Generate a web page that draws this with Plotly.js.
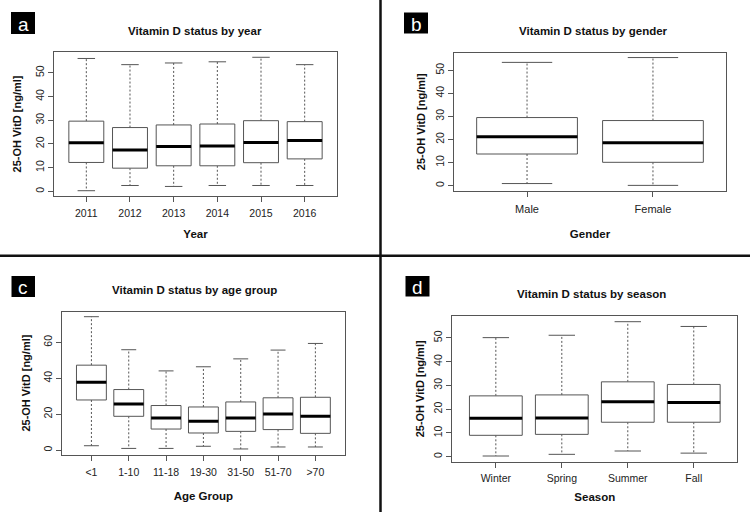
<!DOCTYPE html>
<html>
<head>
<meta charset="utf-8">
<script src="https://cdn.plot.ly/plotly-3.0.1.min.js"></script>
<style>html,body{margin:0;padding:0;background:#fff;}#chart{width:750px;height:512px;}</style>
</head>
<body>
<div id="chart"></div>
<script>
// ---- Panel a: by year ----
const yearCats = ['2011','2012','2013','2014','2015','2016'];
const yearMin = [0.3, 2.5, 2.1, 2.5, 2.5, 2.5];
const yearQ1  = [12.2, 9.8, 10.8, 10.8, 12.1, 13.7];
const yearMed = [20.5, 17.5, 18.9, 19.1, 20.6, 21.4];
const yearQ3  = [29.6, 26.9, 28.0, 28.4, 29.8, 29.4];
const yearMax = [56.0, 53.4, 54.1, 54.6, 56.5, 53.4];

// ---- Panel b: by gender ----
const genderCats = ['Male','Female'];
const genderMin = [0.9, 0.1];
const genderQ1  = [13.7, 10.1];
const genderMed = [21.2, 18.6];
const genderQ3  = [29.5, 28.2];
const genderMax = [53.4, 55.5];

// ---- Panel c: by age group ----
const ageCats = ['<1','1-10','11-18','19-30','31-50','51-70','>70'];
const ageMin = [2.4, 0.9, 0.9, 2.1, 0.6, 1.7, 1.7];
const ageQ1  = [27.9, 18.8, 11.7, 9.5, 10.4, 11.4, 9.3];
const ageMed = [37.8, 25.7, 17.9, 16.0, 17.9, 20.1, 18.8];
const ageQ3  = [47.3, 33.7, 24.8, 24.0, 26.8, 29.1, 29.4];
const ageMax = [74.3, 55.9, 44.1, 46.4, 50.8, 55.7, 59.4];

// ---- Panel d: by season ----
const seasonCats = ['Winter','Spring','Summer','Fall'];
const seasonMin = [0.3, 1.0, 2.4, 1.5];
const seasonQ1  = [9.0, 9.4, 14.5, 14.5];
const seasonMed = [16.2, 16.3, 23.1, 22.8];
const seasonQ3  = [25.6, 26.0, 31.5, 30.4];
const seasonMax = [50.1, 51.1, 56.8, 54.8];

const BOXW = 0.8, CAPW = 0.5;
const GREY = '#555555';

function panelTraces(cats, mn, q1, med, q3, mx, xa, ya) {
  const wx = [], wy = [], cx = [], cy = [], bx = [], by = [], mxs = [], mys = [];
  cats.forEach((c, k) => {
    const p = k + 1, h = BOXW / 2, hc = BOXW * CAPW / 2;
    wx.push(p, p, null, p, p, null);
    wy.push(q3[k], mx[k], null, q1[k], mn[k], null);
    cx.push(p - hc, p + hc, null, p - hc, p + hc, null);
    cy.push(mx[k], mx[k], null, mn[k], mn[k], null);
    bx.push(p - h, p + h, p + h, p - h, p - h, null);
    by.push(q1[k], q1[k], q3[k], q3[k], q1[k], null);
    mxs.push(p - h, p + h, null);
    mys.push(med[k], med[k], null);
  });
  const base = {type: 'scatter', mode: 'lines', xaxis: xa, yaxis: ya, hoverinfo: 'skip', showlegend: false};
  return [
    Object.assign({}, base, {x: wx, y: wy, line: {color: GREY, width: 1, dash: '2px,2px'}}),
    Object.assign({}, base, {x: cx, y: cy, line: {color: GREY, width: 1}}),
    Object.assign({}, base, {x: bx, y: by, fill: 'toself', fillcolor: '#ffffff', line: {color: GREY, width: 1}}),
    Object.assign({}, base, {x: mxs, y: mys, line: {color: '#000000', width: 3}})
  ];
}

const data = [].concat(
  panelTraces(yearCats, yearMin, yearQ1, yearMed, yearQ3, yearMax, 'x', 'y'),
  panelTraces(genderCats, genderMin, genderQ1, genderMed, genderQ3, genderMax, 'x2', 'y2'),
  panelTraces(ageCats, ageMin, ageQ1, ageMed, ageQ3, ageMax, 'x3', 'y3'),
  panelTraces(seasonCats, seasonMin, seasonQ1, seasonMed, seasonQ3, seasonMax, 'x4', 'y4')
);

const W = 750, H = 512;
const FONT = '"Liberation Sans", Arial, Helvetica, sans-serif';
function px(x) { return x / W; }
function py(y) { return 1 - y / H; }

function xAxis(cats, range, dom, title, fs, anchor, standoff, tls) {
  return {
    domain: [px(dom[0]), px(dom[1])], anchor: anchor,
    range: range, autorange: false,
    tickvals: cats.map((c, k) => k + 1), ticktext: cats,
    ticks: 'outside', ticklen: 5, tickcolor: GREY, tickwidth: 1,
    ticklabelstandoff: tls,
    showline: true, mirror: true, linecolor: GREY, linewidth: 1,
    showgrid: false, zeroline: false,
    tickfont: {family: FONT, size: fs, color: '#222'},
    title: {text: title, font: {family: FONT, size: 11.5, color: '#111', weight: 'bold'}, standoff: standoff}
  };
}
function yAxis(range, dom, dtick, maxTick, anchor, standoff) {
  const tv = []; for (let v = 0; v <= maxTick; v += dtick) tv.push(v);
  return {
    domain: [py(dom[1]), py(dom[0])], anchor: anchor,
    range: range, autorange: false,
    tickvals: tv, tickangle: -90,
    ticks: 'outside', ticklen: 5, tickcolor: GREY, tickwidth: 1,
    showline: true, mirror: true, linecolor: GREY, linewidth: 1,
    showgrid: false, zeroline: false,
    tickfont: {family: FONT, size: 10.5, color: '#222'},
    title: {text: '25-OH VitD [ng/ml]', font: {family: FONT, size: 11, color: '#111', weight: 'bold'}, standoff: standoff}
  };
}

const titles = [
  {t: 'Vitamin D status by year', x: 195, y: 31},
  {t: 'Vitamin D status by gender', x: 593, y: 31},
  {t: 'Vitamin D status by age group', x: 194, y: 290},
  {t: 'Vitamin D status by season', x: 591, y: 294}
];
const letters = [
  {t: 'a', x0: 11, x1: 35, y0: 12, y1: 34},
  {t: 'b', x0: 404, x1: 428, y0: 12.5, y1: 33.5},
  {t: 'c', x0: 11.5, x1: 35, y0: 276, y1: 297},
  {t: 'd', x0: 405.5, x1: 429.5, y0: 276, y1: 296.5}
];

const annotations = titles.map(o => ({
  text: '<b>' + o.t + '</b>', xref: 'paper', yref: 'paper', x: px(o.x), y: py(o.y),
  xanchor: 'center', yanchor: 'middle', showarrow: false,
  font: {family: FONT, size: 11.5, color: '#111'}
})).concat(letters.map(o => ({
  text: o.t, xref: 'paper', yref: 'paper', x: px((o.x0 + o.x1) / 2), y: py((o.y0 + o.y1) / 2 + 1),
  xanchor: 'center', yanchor: 'middle', showarrow: false,
  font: {family: FONT, size: 19, color: '#fff'}
})));

const shapes = letters.map(o => ({
  type: 'rect', xref: 'paper', yref: 'paper',
  x0: px(o.x0), x1: px(o.x1), y0: py(o.y1), y1: py(o.y0),
  fillcolor: '#000', line: {width: 0}, layer: 'above'
})).concat([
  {type: 'line', xref: 'paper', yref: 'paper', x0: px(380.5), x1: px(380.5), y0: 0, y1: 1, line: {color: '#111', width: 2.5}},
  {type: 'line', xref: 'paper', yref: 'paper', x0: 0, x1: 1, y0: py(255.7), y1: py(255.7), line: {color: '#111', width: 2.5}}
]);

const layout = {
  width: W, height: H,
  margin: {l: 0, r: 0, t: 0, b: 0},
  paper_bgcolor: '#fff', plot_bgcolor: '#fff',
  showlegend: false,
  font: {family: FONT},
  xaxis:  xAxis(yearCats,   [0.26, 6.74], [54, 337],     'Year',      10.5, 'y',  11, 3),
  yaxis:  yAxis([-1.8, 58.6], [52.3, 195.7], 10, 50, 'x', 9),
  xaxis2: xAxis(genderCats, [0.42, 2.58], [454, 726],    'Gender',    11, 'y2',   16, 3),
  yaxis2: yAxis([-2.2, 57.6], [52.7, 190.7], 10, 50, 'x2', 5),
  xaxis3: xAxis(ageCats,    [0.22, 7.78], [62.3, 344.5], 'Age Group', 10.5, 'y3', 14, 3),
  yaxis3: yAxis([-2.6, 77.2], [311.5, 454.7], 20, 60, 'x3', 9),
  xaxis4: xAxis(seasonCats, [0.34, 4.66], [452.3, 737.3], 'Season',   10.5, 'y4', 9, 2),
  yaxis4: yAxis([-2.1, 59.2], [316, 461.7], 10, 50, 'x4', 5),
  annotations: annotations,
  shapes: shapes
};

Plotly.newPlot('chart', data, layout, {staticPlot: true, displayModeBar: false});
</script>
</body>
</html>
